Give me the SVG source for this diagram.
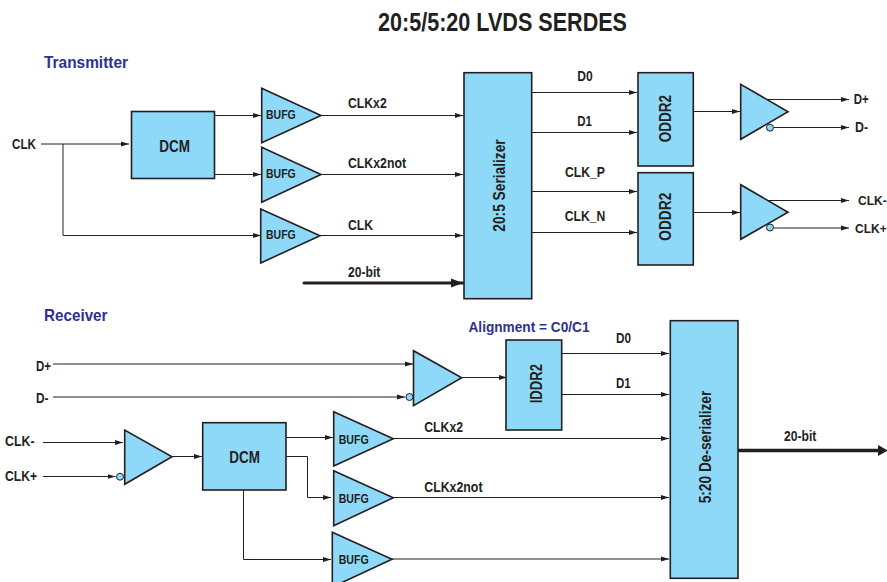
<svg xmlns="http://www.w3.org/2000/svg" width="887" height="582" viewBox="0 0 887 582">
<style>
text{font-family:"Liberation Sans",Arial,sans-serif;font-weight:bold;fill:#231f20}
.s{font-size:14px}.e{font-size:12px}.b{font-size:13px}.m{font-size:16px}.h{font-size:17px;fill:#2e3192}.a{font-size:15px;fill:#2e3192}.t{font-size:25px}
.n{fill:#8ed8f8;stroke:#231f20;stroke-width:1.6}
.c{fill:none;stroke:#231f20;stroke-width:1}
.w{fill:none;stroke:#231f20;stroke-width:3;stroke-linecap:round}
.o{fill:#8ed8f8;stroke:#231f20;stroke-width:1}
</style>
<defs>
<marker id="a" markerUnits="userSpaceOnUse" markerWidth="9" markerHeight="6" refX="8" refY="3" orient="auto"><path d="M0 0.5L8 3L0 5.500z" fill="#231f20"/></marker>
<marker id="A" markerUnits="userSpaceOnUse" markerWidth="13" markerHeight="10" refX="12" refY="5" orient="auto"><path d="M0 0.500L12 5L0 9.500z" fill="#231f20"/></marker>
</defs>
<rect width="887" height="582" fill="#fff"/>
<text class="t" x="378" y="31" textLength="249" lengthAdjust="spacingAndGlyphs">20:5/5:20 LVDS SERDES</text>
<text class="h" x="44" y="67.500" textLength="84" lengthAdjust="spacingAndGlyphs">Transmitter</text>
<text class="h" x="44" y="321" textLength="63.500" lengthAdjust="spacingAndGlyphs">Receiver</text>
<text class="a" x="468.500" y="332" textLength="121" lengthAdjust="spacingAndGlyphs">Alignment = C0/C1</text>
<g id="connectors">
<path class="c" marker-end="url(#a)" d="M41 144H129"/>
<path class="c" marker-end="url(#a)" d="M63 144V235.500H261"/>
<path class="c" marker-end="url(#a)" d="M215 115.500H261"/>
<path class="c" marker-end="url(#a)" d="M215 174.500H261"/>
<path class="c" marker-end="url(#a)" d="M321 115.500H463"/>
<path class="c" marker-end="url(#a)" d="M321 174.500H463"/>
<path class="c" marker-end="url(#a)" d="M320 235.500H463"/>
<path class="c" marker-end="url(#a)" d="M532 92.500H637"/>
<path class="c" marker-end="url(#a)" d="M532 132.500H637"/>
<path class="c" marker-end="url(#a)" d="M532 191.500H637"/>
<path class="c" marker-end="url(#a)" d="M532 232.500H637"/>
<path class="c" marker-end="url(#a)" d="M694 111.500H740"/>
<path class="c" marker-end="url(#a)" d="M694 212.500H740"/>
<path class="c" marker-end="url(#a)" d="M768 99.500H849"/>
<path class="c" marker-end="url(#a)" d="M774 127.500H849"/>
<path class="c" marker-end="url(#a)" d="M768 200.500H849"/>
<path class="c" marker-end="url(#a)" d="M774 228H849"/>
<path class="c" marker-end="url(#a)" d="M53 364H413"/>
<path class="c" marker-end="url(#a)" d="M53 397H405"/>
<path class="c" marker-end="url(#a)" d="M43 442.500H123"/>
<path class="c" marker-end="url(#a)" d="M43 476.500H115.500"/>
<path class="c" marker-end="url(#a)" d="M172 456.500H202"/>
<path class="c" marker-end="url(#a)" d="M286 437.500H333"/>
<path class="c" marker-end="url(#a)" d="M286 456.500H307.500V497.500H331"/>
<path class="c" marker-end="url(#a)" d="M243.500 490V559.500H331"/>
<path class="c" marker-end="url(#a)" d="M462 377.500H507"/>
<path class="c" marker-end="url(#a)" d="M562 353.500H669"/>
<path class="c" marker-end="url(#a)" d="M562 394.500H669"/>
<path class="c" marker-end="url(#a)" d="M393 438.500H669"/>
<path class="c" marker-end="url(#a)" d="M393 497.500H669"/>
<path class="c" marker-end="url(#a)" d="M392 559H669"/>
<path class="w" marker-end="url(#A)" d="M304 283H463"/>
<path class="w" style="stroke-linecap:butt;stroke-width:3.500" d="M738 450.500H879"/>
<path d="M878 445V456L888 450.500z" fill="#231f20"/>
</g>
<g id="tx-dcm"><rect class="n" x="131.500" y="111.500" width="83" height="67"/><text class="m" x="159.300" y="152" textLength="30.700" lengthAdjust="spacingAndGlyphs">DCM</text></g>
<g id="tx-bufg1"><path class="n" d="M261.700 88.300V142.700L321 115.500z"/><text class="b" x="266" y="119.300" textLength="29.700" lengthAdjust="spacingAndGlyphs">BUFG</text></g>
<g id="tx-bufg2"><path class="n" d="M261.700 147.300V202.300L321 174.500z"/><text class="b" x="266" y="178.300" textLength="29.700" lengthAdjust="spacingAndGlyphs">BUFG</text></g>
<g id="tx-bufg3"><path class="n" d="M260.700 209V263L320 235.700z"/><text class="b" x="266" y="239.300" textLength="29.700" lengthAdjust="spacingAndGlyphs">BUFG</text></g>
<g id="serializer"><rect class="n" x="464" y="72.700" width="67.700" height="226"/><text class="m" transform="translate(505 231.700) rotate(-90)" textLength="92.400" lengthAdjust="spacingAndGlyphs">20:5 Serializer</text></g>
<g id="oddr1"><rect class="n" x="638" y="72.700" width="55.300" height="93.300"/><text class="m" transform="translate(671.300 142.300) rotate(-90)" textLength="47.300" lengthAdjust="spacingAndGlyphs">ODDR2</text></g>
<g id="oddr2"><rect class="n" x="638" y="172.700" width="55.300" height="92.300"/><text class="m" transform="translate(671.300 240.700) rotate(-90)" textLength="48" lengthAdjust="spacingAndGlyphs">ODDR2</text></g>
<g id="tx-diff1"><path class="n" d="M740.700 84.300V139.300L788 111.700z"/><circle class="o" cx="770" cy="127.700" r="3.500"/></g>
<g id="tx-diff2"><path class="n" d="M740.700 184.700V239.300L788 212.300z"/><circle class="o" cx="770" cy="227.500" r="3.500"/></g>
<g id="rx-diff1"><path class="n" d="M413.500 350.700V405.700L461.700 377.700z"/><circle class="o" cx="409.500" cy="397" r="3.500"/></g>
<g id="rx-diff2"><path class="n" d="M124.700 430V484.300L172 456.700z"/><circle class="o" cx="120" cy="476.700" r="3.500"/></g>
<g id="rx-dcm"><rect class="n" x="202.700" y="422.700" width="83.300" height="67.300"/><text class="m" x="229.300" y="462.700" textLength="30.700" lengthAdjust="spacingAndGlyphs">DCM</text></g>
<g id="rx-bufg1"><path class="n" d="M333.700 411.700V466L393.300 438.700z"/><text class="b" x="338.700" y="444" textLength="30" lengthAdjust="spacingAndGlyphs">BUFG</text></g>
<g id="rx-bufg2"><path class="n" d="M333.700 470.700V525.700L393.300 497.700z"/><text class="b" x="338.700" y="503.300" textLength="30" lengthAdjust="spacingAndGlyphs">BUFG</text></g>
<g id="rx-bufg3"><path class="n" d="M332.300 532.300V587L392 559.300z"/><text class="b" x="338.700" y="564.300" textLength="30" lengthAdjust="spacingAndGlyphs">BUFG</text></g>
<g id="iddr"><rect class="n" x="506" y="340" width="55.700" height="90"/><text class="m" transform="translate(542.300 403.300) rotate(-90)" textLength="39.300" lengthAdjust="spacingAndGlyphs">IDDR2</text></g>
<g id="deserializer"><rect class="n" x="670.300" y="320.700" width="67.700" height="257.600"/><text class="m" transform="translate(711 503.300) rotate(-90)" textLength="112.600" lengthAdjust="spacingAndGlyphs">5:20 De-serializer</text></g>
<g id="labels">
<text class="s" x="12" y="149" textLength="24" lengthAdjust="spacingAndGlyphs">CLK</text>
<text class="s" x="348" y="108" textLength="38.700" lengthAdjust="spacingAndGlyphs">CLKx2</text>
<text class="s" x="348" y="168.300" textLength="58" lengthAdjust="spacingAndGlyphs">CLKx2not</text>
<text class="s" x="348" y="230" textLength="25" lengthAdjust="spacingAndGlyphs">CLK</text>
<text class="s" x="348" y="276.700" textLength="32.300" lengthAdjust="spacingAndGlyphs">20-bit</text>
<text class="s" x="577.300" y="81" textLength="15.400" lengthAdjust="spacingAndGlyphs">D0</text>
<text class="s" x="577.300" y="126" textLength="14.700" lengthAdjust="spacingAndGlyphs">D1</text>
<text class="s" x="565" y="176.700" textLength="40" lengthAdjust="spacingAndGlyphs">CLK_P</text>
<text class="s" x="564.700" y="221" textLength="40.600" lengthAdjust="spacingAndGlyphs">CLK_N</text>
<text class="s" x="853.700" y="104" textLength="15" lengthAdjust="spacingAndGlyphs">D+</text>
<text class="s" x="855" y="131.700" textLength="13" lengthAdjust="spacingAndGlyphs">D-</text>
<text class="e" x="858" y="205">CLK-</text>
<text class="e" x="855" y="233">CLK+</text>
<text class="s" x="36" y="370.700" textLength="15" lengthAdjust="spacingAndGlyphs">D+</text>
<text class="s" x="36" y="402.700" textLength="12.500" lengthAdjust="spacingAndGlyphs">D-</text>
<text class="s" x="5" y="445.700" textLength="29.500" lengthAdjust="spacingAndGlyphs">CLK-</text>
<text class="s" x="5" y="480.700" textLength="32" lengthAdjust="spacingAndGlyphs">CLK+</text>
<text class="s" x="424.300" y="432.300" textLength="38.700" lengthAdjust="spacingAndGlyphs">CLKx2</text>
<text class="s" x="424.300" y="492.300" textLength="58.200" lengthAdjust="spacingAndGlyphs">CLKx2not</text>
<text class="s" x="616" y="343.300" textLength="15" lengthAdjust="spacingAndGlyphs">D0</text>
<text class="s" x="616" y="387.700" textLength="14.700" lengthAdjust="spacingAndGlyphs">D1</text>
<text class="s" x="784" y="441" textLength="32.300" lengthAdjust="spacingAndGlyphs">20-bit</text>
</g>
</svg>
